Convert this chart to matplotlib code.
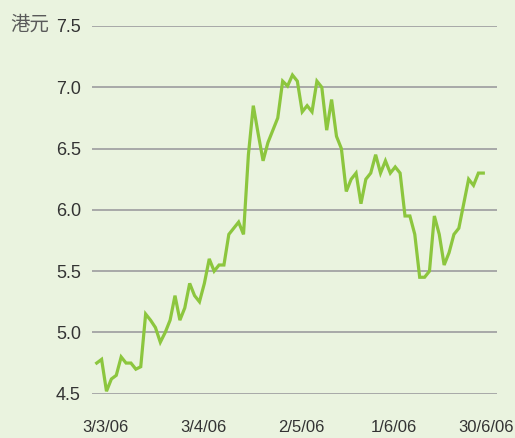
import matplotlib
matplotlib.use("Agg")
import matplotlib.pyplot as plt

# share price, HK$ (one point per trading day)
price = [
    4.75, 4.78, 4.52, 4.62, 4.65, 4.80, 4.75, 4.75, 4.70, 4.72,
    5.15, 5.10, 5.04, 4.92, 5.00, 5.10, 5.30, 5.10, 5.20, 5.40,
    5.30, 5.25, 5.40, 5.60, 5.50, 5.55, 5.55, 5.80, 5.85, 5.90,
    5.80, 6.45, 6.85, 6.62, 6.40, 6.55, 6.65, 6.75, 7.05, 7.01,
    7.10, 7.05, 6.80, 6.85, 6.80, 7.05, 7.00, 6.65, 6.90, 6.60,
    6.50, 6.15, 6.25, 6.30, 6.05, 6.25, 6.30, 6.45, 6.30, 6.40,
    6.30, 6.35, 6.30, 5.95, 5.95, 5.80, 5.45, 5.45, 5.50, 5.95,
    5.80, 5.55, 5.65, 5.80, 5.85, 6.05, 6.25, 6.20, 6.30, 6.30,
]
date_labels = ["3/3/06", "3/4/06", "2/5/06", "1/6/06", "30/6/06"]
date_pos = [1.7, 21.9, 41.9, 60.7, 79.6]   # trading-day index of each label
y_ticks = [4.5, 5.0, 5.5, 6.0, 6.5, 7.0, 7.5]

bg = "#eaf3df"
plt.rcParams["font.family"] = ["Liberation Sans Narrow", "Liberation Sans", "DejaVu Sans"]

fig = plt.figure(figsize=(5.15, 4.38), dpi=100, facecolor=bg)
ax = fig.add_axes([92 / 515, 44.3 / 438, 405 / 515, 367.7 / 438])
ax.set_facecolor(bg)

for yv in y_ticks:
    ax.axhline(yv, color="#a8a8a8", lw=1.4, zorder=1)

ax.plot(range(len(price)), price, color="#8cc63e", lw=2.3, zorder=3,
        solid_joinstyle="miter")

ax.set_xlim(-0.96, 81.8)
ax.set_ylim(4.5, 7.5)
ax.set_yticks(y_ticks)
ax.set_yticklabels([f"{v:.1f}" for v in y_ticks])
ax.set_xticks(date_pos)
ax.set_xticklabels(date_labels)
ax.tick_params(axis="y", length=0, pad=8, labelsize=13, labelcolor="#333333")
ax.tick_params(axis="x", length=0, pad=19, labelsize=12, labelcolor="#333333")
for s in ax.spines.values():
    s.set_visible(False)
ax.grid(False)

fig.text(10 / 515, 1 - 24 / 438, "港元", ha="left", va="center", fontsize=14,
         color="#5a5a5a", family=["Noto Sans CJK TC", "DejaVu Sans"])

fig.savefig("out.png", dpi=100, facecolor=bg)
